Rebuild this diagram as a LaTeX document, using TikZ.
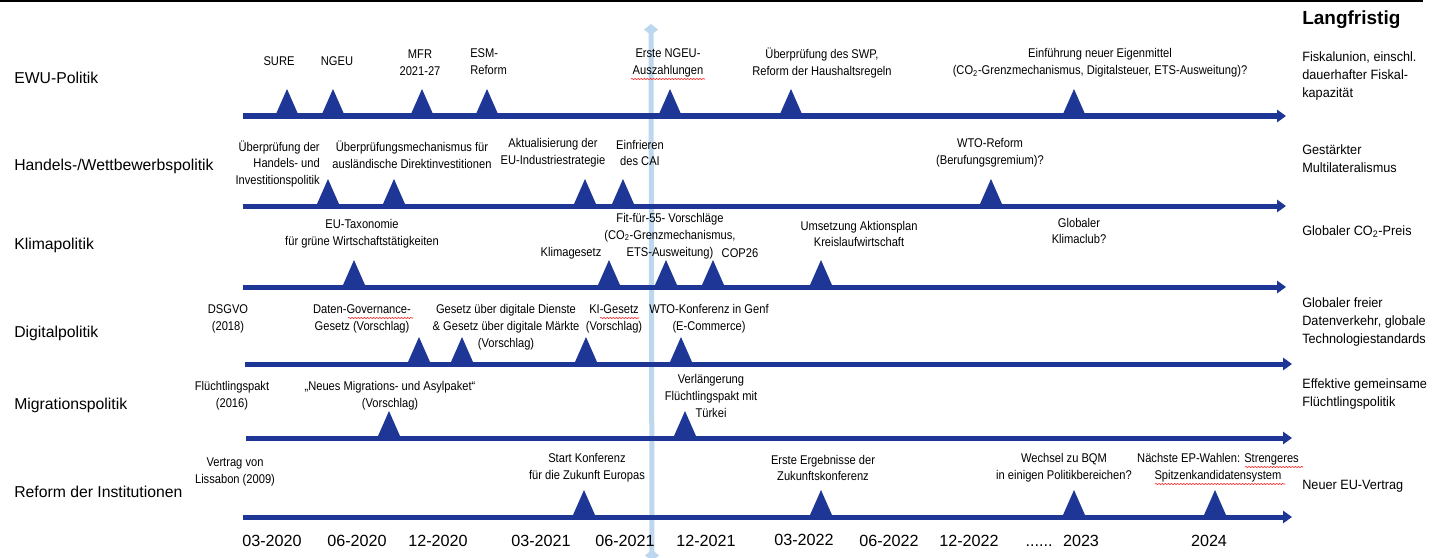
\documentclass[tikz,border=0pt]{standalone}
\usepackage{fontspec}
\setmainfont{Liberation Sans}
\newfontfamily\narrowsf[FakeStretch=0.88]{Liberation Sans}
\newfontfamily\goalsf[FakeStretch=0.94]{Liberation Sans}
\usepackage{tikz}
\usetikzlibrary{arrows.meta}
\usetikzlibrary{decorations.pathmorphing}
\definecolor{tlnavy}{RGB}{30,55,150}
\definecolor{nowblue}{RGB}{189,215,238}
\tikzset{
  rowlabel/.style={anchor=base west, inner sep=0pt, font=\fontsize{11.2}{14}\selectfont},
  evt/.style={inner sep=0pt, align=center, font=\narrowsf\fontsize{9}{12}\selectfont},
  goal/.style={anchor=west, inner sep=0pt, align=left, font=\goalsf\fontsize{9.6}{12.8}\selectfont},
  datelabel/.style={anchor=base, inner sep=0pt, font=\fontsize{11.5}{14}\selectfont},
  timeline/.style={tlnavy, line width=0.125cm, -{Triangle[length=0.22cm,width=0.3cm]}},
  nowline/.style={nowblue, line width=0.125cm,
    {Diamond[length=0.28cm,width=0.35cm]}-{Diamond[length=0.28cm,width=0.35cm]}},
  evtmark/.style={fill=tlnavy},
  squiggle/.style={red, line width=0.4pt, decorate,
    decoration={snake, amplitude=0.35pt, segment length=2.2pt}},
}
\newcommand{\evtmark}[2]{\fill[evtmark] (#1-11,#2) -- (#1+11,#2) -- (#1,#2-25) -- cycle;}
\begin{document}
\begin{tikzpicture}[x=0.025cm, y=-0.025cm]
\useasboundingbox (0,0) rectangle (1441,558);
\clip (0,0) rectangle (1441,558);

\draw[black, line width=0.05cm] (0,1) -- (1423,1);

\coordinate (nowtop) at (651,24);
\coordinate (nowbot) at (652,561);
\draw[nowline] (nowtop) -- (nowbot);

\node[font=\bfseries\fontsize{13.5}{16}\selectfont, anchor=west, inner sep=0pt] (longterm) at (1302,20) {Langfristig};

\node[rowlabel] (emu) at (14,84) {EWU-Politik};
\node[rowlabel] (trade) at (14,170) {Handels-/Wettbewerbspolitik};
\node[rowlabel] (climate) at (14,249) {Klimapolitik};
\node[rowlabel] (digital) at (14,337) {Digitalpolitik};
\node[rowlabel] (migration) at (14,409) {Migrationspolitik};
\node[rowlabel] (institutions) at (14,497) {Reform der Institutionen};

\coordinate (l1s) at (243,116); \coordinate (l1e) at (1286,116);
\coordinate (l2s) at (243,206); \coordinate (l2e) at (1286,206);
\coordinate (l3s) at (243,287); \coordinate (l3e) at (1286,287);
\coordinate (l4s) at (245,364); \coordinate (l4e) at (1292,364);
\coordinate (l5s) at (246,438); \coordinate (l5e) at (1292,438);
\coordinate (l6s) at (243,517); \coordinate (l6e) at (1292,517);
\draw[timeline] (l1s) -- (l1e);
\draw[timeline] (l2s) -- (l2e);
\draw[timeline] (l3s) -- (l3e);
\draw[timeline] (l4s) -- (l4e);
\draw[timeline] (l5s) -- (l5e);
\draw[timeline] (l6s) -- (l6e);

\node[evt] (sure) at (279,61) {SURE};
\node[evt] (ngeu) at (337,61) {NGEU};
\node[evt] (mfr) at (420,63) {MFR\\2021-27};
\node[evt, align=left, anchor=west] (esm) at (470,62) {ESM-\\Reform};
\node[evt] (ngeupay) at (668,63) {Erste NGEU-\\Auszahlungen};
\node[evt] (swp) at (822,63) {Überprüfung des SWP,\\Reform der Haushaltsregeln};
\node[evt] (ownres) at (1100,63) {Einführung neuer Eigenmittel\\(CO\textsubscript{2}-Grenzmechanismus, Digitalsteuer, ETS-Ausweitung)?};
\evtmark{287}{114}
\evtmark{333}{114}
\evtmark{422}{114}
\evtmark{487}{114}
\evtmark{670}{114}
\evtmark{791}{114}
\evtmark{1074}{114}

\node[evt, align=right, anchor=east] (tradereview) at (320,164) {Überprüfung der\\Handels- und\\Investitionspolitik};
\node[evt] (fdi) at (412,155) {Überprüfungsmechanismus für\\ausländische Direktinvestitionen};
\node[evt] (industry) at (553,153) {Aktualisierung der\\EU-Industriestrategie};
\node[evt] (cai) at (640,153) {Einfrieren\\des CAI};
\node[evt] (wtoreform) at (990,153) {WTO-Reform\\(Berufungsgremium)?};
\evtmark{328}{204}
\evtmark{394}{204}
\evtmark{585}{204}
\evtmark{623}{204}
\evtmark{991}{204}

\node[evt] (taxonomy) at (362,234) {EU-Taxonomie\\für grüne Wirtschaftstätigkeiten};
\node[evt] (climatelaw) at (571,253) {Klimagesetz};
\node[evt] (fitfor) at (670,236) {Fit-für-55- Vorschläge\\(CO\textsubscript{2}-Grenzmechanismus,\\ETS-Ausweitung)};
\node[evt] (cop) at (740,253) {COP26};
\node[evt] (circular) at (859,234) {Umsetzung Aktionsplan\\Kreislaufwirtschaft};
\node[evt] (climaclub) at (1079,231) {Globaler\\Klimaclub?};
\evtmark{354}{285}
\evtmark{609}{285}
\evtmark{666}{285}
\evtmark{713}{285}
\evtmark{821}{285}

\node[evt] (gdpr) at (228,319) {DSGVO\\(2018)};
\node[evt] (dga) at (362,319) {Daten-Governance-\\Gesetz (Vorschlag)};
\node[evt] (dsa) at (506,327) {Gesetz über digitale Dienste\\\& Gesetz über digitale Märkte\\(Vorschlag)};
\node[evt] (aiact) at (614,319) {KI-Gesetz\\(Vorschlag)};
\node[evt] (wtoconf) at (709,319) {WTO-Konferenz in Genf\\(E-Commerce)};
\evtmark{419}{362}
\evtmark{462}{362}
\evtmark{586}{362}
\evtmark{681}{362}

\node[evt] (refugee) at (232,396) {Flüchtlingspakt\\(2016)};
\node[evt] (asylum) at (390,396) {„Neues Migrations- und Asylpaket“\\(Vorschlag)};
\node[evt] (turkey) at (711,396) {Verlängerung\\Flüchtlingspakt mit\\Türkei};
\evtmark{389}{436}
\evtmark{685}{436}

\node[evt] (lisbon) at (235,472) {Vertrag von\\Lissabon (2009)};
\node[evt] (cofoe) at (587,468) {Start Konferenz\\für die Zukunft Europas};
\node[evt] (cofoeres) at (823,468) {Erste Ergebnisse der\\Zukunftskonferenz};
\node[evt] (qmv) at (1064,468) {Wechsel zu BQM\\in einigen Politikbereichen?};
\node[evt] (epvote) at (1218,468) {Nächste EP-Wahlen: Strengeres\\Spitzenkandidatensystem};
\evtmark{584}{515}
\evtmark{821}{515}
\evtmark{1074}{515}
\evtmark{1215}{515}

\draw[squiggle] (631,79) -- (705,79);
\draw[squiggle] (348,318) -- (413,318);
\draw[squiggle] (600,318) -- (639,318);
\draw[squiggle] (1245,467) -- (1303,467);
\draw[squiggle] (1155,484) -- (1285,484);

\node[goal] (fiscal) at (1302,76) {Fiskalunion, einschl.\\dauerhafter Fiskal-\\kapazität};
\node[goal] (multilat) at (1302,159) {Gestärkter\\Multilateralismus};
\node[goal] (coprice) at (1302,232) {Globaler CO\textsubscript{2}-Preis};
\node[goal] (dataflow) at (1302,322) {Globaler freier\\Datenverkehr, globale\\Technologiestandards};
\node[goal] (refpolicy) at (1302,394) {Effektive gemeinsame\\Flüchtlingspolitik};
\node[goal] (treaty) at (1302,486) {Neuer EU-Vertrag};

\node[datelabel] (d1) at (272,546) {03-2020};
\node[datelabel] (d2) at (357,546) {06-2020};
\node[datelabel] (d3) at (438,546) {12-2020};
\node[datelabel] (d4) at (541,546) {03-2021};
\node[datelabel] (d5) at (625,546) {06-2021};
\node[datelabel] (d6) at (706,546) {12-2021};
\node[datelabel] (d7) at (804,545) {03-2022};
\node[datelabel] (d8) at (889,546) {06-2022};
\node[datelabel] (d9) at (969,546) {12-2022};
\node[datelabel] (dots) at (1039,546) {......};
\node[datelabel] (d10) at (1081,546) {2023};
\node[datelabel] (d11) at (1209,546) {2024};
\end{tikzpicture}
\end{document}
